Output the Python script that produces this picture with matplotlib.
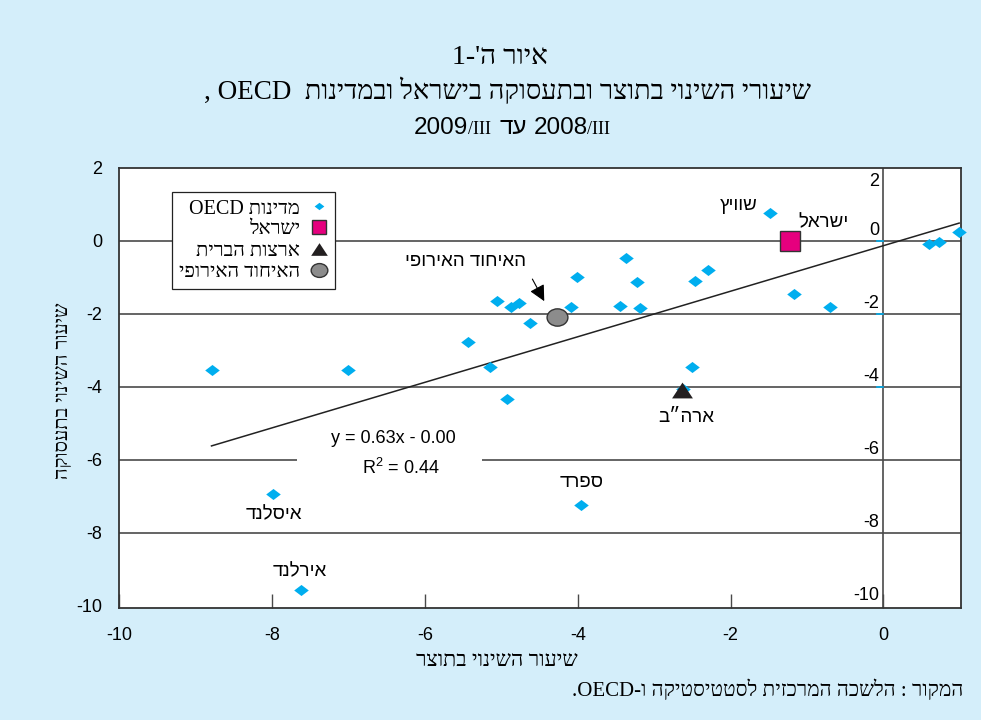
import numpy as np
import matplotlib
matplotlib.use('Agg')
import matplotlib.pyplot as plt
from matplotlib.lines import Line2D
from matplotlib.patches import Rectangle
from matplotlib.path import Path

# fonts: serif for titles / legend, sans for labels inside the plot
SERIF = ['Liberation Serif', 'DejaVu Sans']
SANS = ['Liberation Sans', 'DejaVu Sans']
plt.rcParams['font.family'] = SANS
plt.rcParams['axes.unicode_minus'] = False
plt.rcParams['mathtext.fontset'] = 'custom'
plt.rcParams['mathtext.rm'] = 'Liberation Sans'


def vis(s):
    # matplotlib has no bidi support -> give Hebrew in visual order
    return s[::-1]


# ---- data ----
oecd_x = [-8.79, -7.01, -7.99, -7.62, -5.43, -5.15, -4.92, -5.05, -4.87, -4.77,
          -4.62, -4.01, -4.09, -3.96, -3.37, -3.45, -3.23, -3.18, -2.50, -2.46,
          -2.30, -1.48, -1.17, -0.70, 0.60, 0.72, 0.99, -2.62]
oecd_y = [-3.53, -3.53, -6.94, -9.58, -2.78, -3.46, -4.34, -1.64, -1.80, -1.71,
          -2.26, -1.00, -1.80, -7.24, -0.47, -1.78, -1.13, -1.84, -3.46, -1.09,
          -0.79, 0.76, -1.47, -1.80, -0.09, -0.03, 0.25, -4.05]
israel_x, israel_y = -1.22, 0.0
usa_x, usa_y = -2.63, -4.09
eu_x, eu_y = -4.27, -2.09

trend_slope = 0.625
trend_intercept = -0.13
trend_text = 'y = 0.63x - 0.00'
r2_text = 'R$^{2}$ = 0.44'

x_ticks = [-10, -8, -6, -4, -2, 0]
y_ticks = [2, 0, -2, -4, -6, -8, -10]
grid_y = [0, -2, -4, -6, -8]

legend_labels = ['OECD ' + vis('מדינות'), vis('ישראל'), vis('ארצות הברית'), vis('האיחוד האירופי')]

# colours
BG = '#d4eefa'
CYAN = '#00aeef'
MAGENTA = '#e6007e'
GRID = '#4a4a4a'

# custom marker shapes
diamond = [(-1, 0), (0, 0.76), (1, 0), (0, -0.76), (-1, 0)]
triangle = [(0, 0.76), (-1, -0.76), (1, -0.76), (0, 0.76)]
uc = Path.unit_circle()
ellipse = Path(uc.vertices * np.array([1.0, 0.83]), uc.codes)

fig = plt.figure(figsize=(9.81, 7.2), dpi=100, facecolor=BG)
ax = fig.add_axes([119 / 981, 1 - 608 / 720, 842 / 981, 440 / 720])
ax.set_facecolor('white')
ax.set_xlim(-10, 1.014)
ax.set_ylim(-10.07, 1.97)

# grid lines and the zero line
for g in grid_y:
    ax.axhline(g, color=GRID, lw=1.2, zorder=1)
ax.axvline(0, color=GRID, lw=1.2, zorder=1)
for g in [0, -2, -4]:
    ax.plot([-0.09, 0.0], [g, g], color=CYAN, lw=1.2, zorder=1.5)

# white patch behind the equation text
ax.add_patch(Rectangle((-7.67, -6.35), 2.42, 0.7, facecolor='white', edgecolor='none', zorder=2))

# trend line
tx = np.array([min(oecd_x), max(oecd_x)])
ax.plot(tx, trend_slope * tx + trend_intercept, color='#222222', lw=1.1, zorder=3)

# points
ax.plot(oecd_x, oecd_y, ls='none', marker=diamond, ms=10.5, color=CYAN, mec='none', zorder=4, clip_on=False)
ax.plot(usa_x, usa_y, ls='none', marker=triangle, ms=15, color='#231f20', mec='none', zorder=5)
ax.plot(israel_x, israel_y, ls='none', marker='s', ms=14, color=MAGENTA, mec='#333333', mew=1.0, zorder=5)
ax.plot(eu_x, eu_y, ls='none', marker=ellipse, ms=15, color='#8c8c8c', mec='#333333', mew=1.0, zorder=5)

# text labels next to points
lab = dict(fontsize=13.5, family=SANS, ha='center', va='center', zorder=6)
ax.text(-1.89, 0.98, vis('שוויץ'), **lab)
ax.text(-0.79, 0.49, vis('ישראל'), **lab)
ax.text(-5.47, -0.56, vis('האיחוד האירופי'), **lab)
ax.text(-2.58, -4.84, vis('ארה״ב'), **lab)
ax.text(-3.95, -6.64, vis('ספרד'), **lab)
ax.text(-7.97, -7.51, vis('איסלנד'), **lab)
ax.text(-7.63, -9.07, vis('אירלנד'), **lab)
ax.annotate('', xy=(-4.42, -1.72), xytext=(-4.61, -0.98),
            arrowprops=dict(arrowstyle='-|>', color='black', lw=0.8, mutation_scale=24), zorder=6)

eq = dict(lab, fontsize=13)
ax.text(-6.41, -5.41, trend_text, **eq)
ax.text(-6.31, -6.23, r2_text, **eq)

# secondary labels along the zero line
for v in y_ticks:
    yy = v + 0.28 if v < 2 else v - 0.36
    ax.text(-0.06, yy, str(v), fontsize=13, ha='right', va='center', zorder=6)

# axes styling
ax.set_xticks(x_ticks)
ax.set_yticks(y_ticks)
ax.tick_params(axis='x', direction='in', length=10, width=1.0, color=GRID, pad=14, labelsize=13)
ax.tick_params(axis='y', length=0, pad=12, labelsize=13)
for sp in ax.spines.values():
    sp.set_color('#333333')
    sp.set_linewidth(1.3)

# legend (marker on the right, Hebrew style)
handles = [
    Line2D([], [], ls='none', marker=diamond, ms=7, color=CYAN, mec='none'),
    Line2D([], [], ls='none', marker='s', ms=10.5, color=MAGENTA, mec='#333333', mew=1.0),
    Line2D([], [], ls='none', marker=triangle, ms=12, color='#231f20', mec='none'),
    Line2D([], [], ls='none', marker=ellipse, ms=12, color='#8c8c8c', mec='#333333', mew=1.0),
]
leg = ax.legend(handles, legend_labels, loc='upper left', bbox_to_anchor=(0.063, 0.945),
                borderaxespad=0, markerfirst=False, frameon=True, fancybox=False,
                edgecolor='#222222', framealpha=1, labelspacing=0.1, handlelength=0.9,
                handletextpad=0.5, borderpad=0.35, prop=dict(family=SERIF, size=14.5))
leg.get_frame().set_linewidth(0.9)
leg.set_zorder(7)

# axis titles
fig.text(497 / 981, 1 - 661 / 720, vis('שיעור השינוי בתוצר'), family=SERIF, fontsize=15.5,
         ha='center', va='center')
fig.text(63 / 981, 1 - 391 / 720, vis('שיעור השינוי בתעסוקה'), family=SERIF, fontsize=14.5,
         ha='center', va='center', rotation=90)

# titles
fig.text(500 / 981, 1 - 57 / 720, '1-' + vis("איור ה'"), family=SERIF, fontsize=20,
         ha='center', va='center')
fig.text(508 / 981, 1 - 91 / 720, ', OECD  ' + vis('שיעורי השינוי בתוצר ובתעסוקה בישראל ובמדינות'),
         family=SERIF, fontsize=19.5, ha='center', va='center')

# third title line built from pieces (small-caps III)
renderer = fig.canvas.get_renderer()
pieces = [('2009', 17.5, SANS, 0), ('/III', 13, SERIF, 9), (vis('עד'), 17.5, SANS, 6),
          ('2008', 17.5, SANS, 0), ('/III', 13, SERIF, 0)]
base_y = 1 - 134 / 720
arts = [fig.text(0, base_y, s, fontsize=fs, family=fam, va='baseline') for s, fs, fam, gap in pieces]
widths = [a.get_window_extent(renderer).width for a in arts]
total = sum(widths) + sum(p[3] for p in pieces)
x = 512 - total / 2
for a, w, p in zip(arts, widths, pieces):
    a.set_x(x / 981)
    x += w + p[3]

# source line
fig.text(963 / 981, 1 - 690 / 720, '.OECD-ו ' + vis('המקור : הלשכה המרכזית לסטטיסטיקה'),
         family=SERIF, fontsize=15, ha='right', va='center')

fig.savefig('out.png', dpi=100, facecolor=BG)
